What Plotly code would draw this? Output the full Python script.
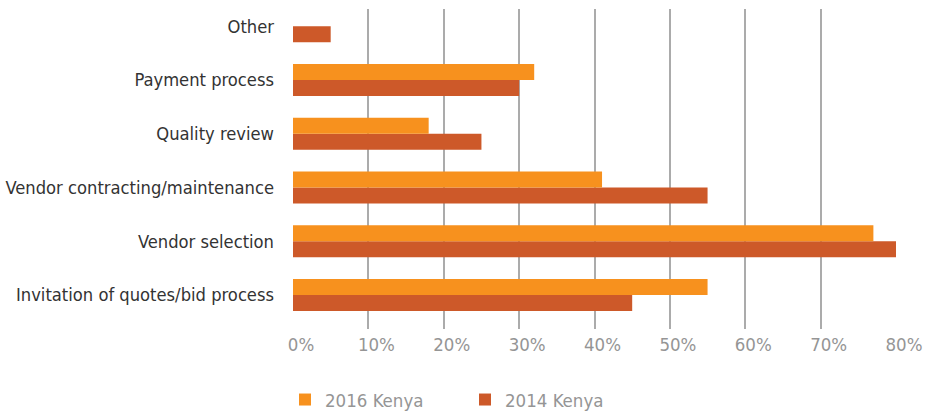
import plotly.graph_objects as go

categories = [
    "Invitation of quotes/bid process",
    "Vendor selection",
    "Vendor contracting/maintenance",
    "Quality review",
    "Payment process",
    "Other",
]
kenya_2016 = [55, 77, 41, 18, 32, None]
kenya_2014 = [45, 80, 55, 25, 30, 5]
tick_vals = [0, 10, 20, 30, 40, 50, 60, 70, 80]
tick_text = ["0%", "10%", "20%", "30%", "40%", "50%", "60%", "70%", "80%"]

FONT = "DejaVu Sans Condensed, Liberation Sans Narrow, sans-serif"
C2016 = "#F7911E"
C2014 = "#CD5929"

fig = go.Figure()
fig.add_trace(go.Bar(
    y=categories, x=kenya_2014, name="2014 Kenya", orientation="h",
    marker=dict(color=C2014, line=dict(width=0)), legendrank=2,
))
fig.add_trace(go.Bar(
    y=categories, x=kenya_2016, name="2016 Kenya", orientation="h",
    marker=dict(color=C2016, line=dict(width=0)), legendrank=1,
))

fig.update_layout(
    width=929, height=412,
    margin=dict(l=293, r=33, t=9, b=83, autoexpand=False),
    paper_bgcolor="white", plot_bgcolor="white",
    barmode="group", bargap=0.405, bargroupgap=0,
    font=dict(family=FONT, size=18.2, color="#333333"),
    xaxis=dict(
        range=[0, 80], tickvals=tick_vals, ticktext=tick_text,
        showgrid=True, gridcolor="#ababab", gridwidth=2,
        zeroline=False, showline=False, ticks="",
        tickfont=dict(family=FONT, size=18.5, color="#959595"),
        ticklabelshift=8, ticklabelstandoff=2,
        automargin=False, fixedrange=True,
    ),
    yaxis=dict(
        range=[-0.633, 5.321], showgrid=False, zeroline=False, showline=False,
        ticks="", ticklabelstandoff=18,
        tickfont=dict(family=FONT, size=18.2, color="#333333"),
        automargin=False, fixedrange=True,
    ),
    showlegend=True,
    legend=dict(
        orientation="h", xref="container", yref="container",
        x=285 / 929, xanchor="left", y=12 / 412, yanchor="middle",
        font=dict(family=FONT, size=18.5, color="#959595"),
        entrywidth=135, entrywidthmode="pixels",
        bgcolor="rgba(0,0,0,0)",
    ),
)

fig.write_html("out.html")
